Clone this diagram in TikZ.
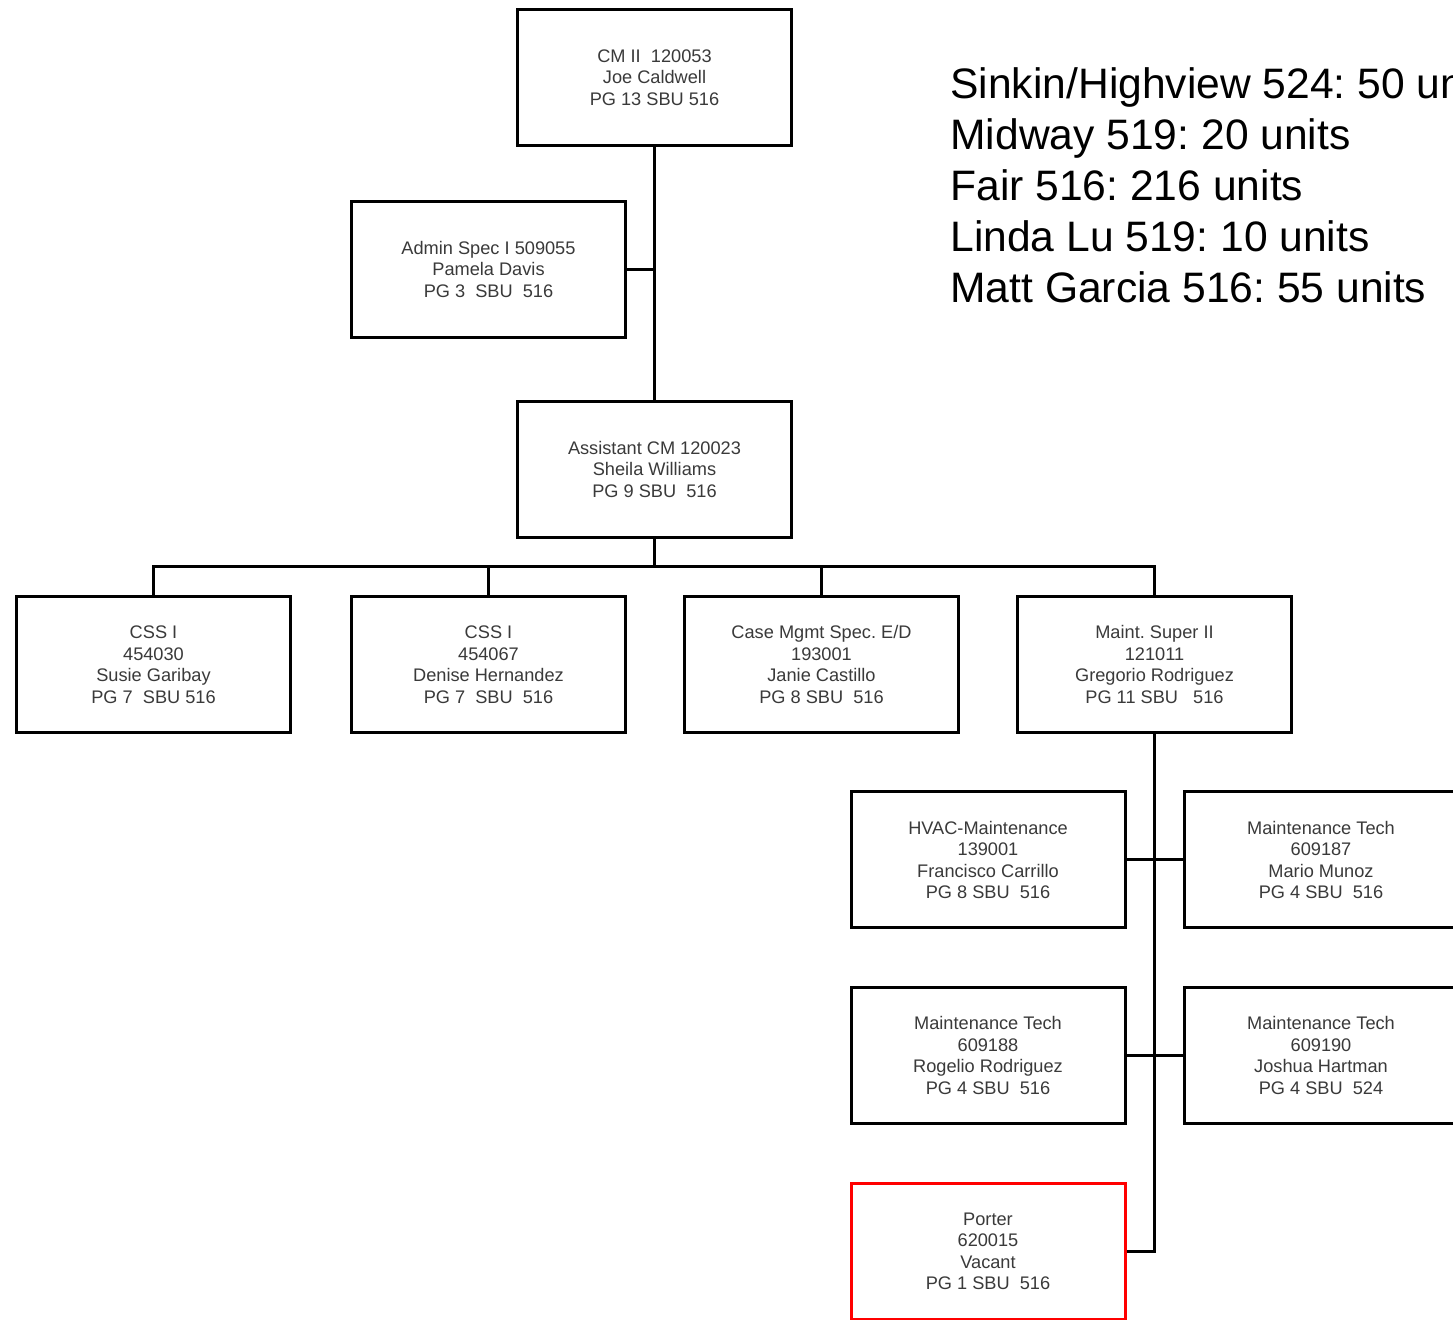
\documentclass[tikz,border=0pt]{standalone}
\usepackage{fontspec}
\setmainfont{Liberation Sans}
\definecolor{boxtext}{HTML}{3A3A3A}
\definecolor{vacantred}{HTML}{FF0000}
\tikzset{
  posbox/.style={draw=black, line width=1.5pt, fill=white, minimum width=137pt, minimum height=68pt,
    inner sep=0pt, align=center, text=boxtext, font=\fontsize{9.1pt}{10.75pt}\selectfont},
  vacbox/.style={posbox, draw=vacantred},
  conn/.style={draw=black, line width=1.5pt},
  unitline/.style={anchor=base west, inner sep=0pt, text=black, font=\fontsize{21.3pt}{25pt}\selectfont}
}
\begin{document}
\frenchspacing
\begin{tikzpicture}[x=0.5pt,y=-0.5pt]
\useasboundingbox (0,0) rectangle (1453,1320);
\clip (0,0) rectangle (1453,1320);
% nodes
\node[posbox] (cm) at (654.5,77.5) {CM II\ \ 120053\\Joe Caldwell\\PG 13 SBU 516};
\node[posbox] (admin) at (488.5,269.5) {Admin Spec I 509055\\Pamela Davis\\PG 3\ \ SBU\ \ 516};
\node[posbox] (asst) at (654.5,469.5) {Assistant CM 120023\\Sheila Williams\\PG 9 SBU\ \ 516};
\node[posbox] (css1) at (153.5,664.5) {CSS I\\454030\\Susie Garibay\\PG 7\ \ SBU 516};
\node[posbox] (css2) at (488.5,664.5) {CSS I\\454067\\Denise Hernandez\\PG 7\ \ SBU\ \ 516};
\node[posbox] (case) at (821.5,664.5) {Case Mgmt Spec. E/D\\193001\\Janie Castillo\\PG 8 SBU\ \ 516};
\node[posbox] (maint) at (1154.5,664.5) {Maint. Super II\\121011\\Gregorio Rodriguez\\PG 11 SBU\ \ \ 516};
\node[posbox] (hvac) at (988,860) {HVAC-Maintenance\\139001\\Francisco Carrillo\\PG 8 SBU\ \ 516};
\node[posbox] (mt1) at (1321,860) {Maintenance Tech\\609187\\Mario Munoz\\PG 4 SBU\ \ 516};
\node[posbox] (mt2) at (988,1055.5) {Maintenance Tech\\609188\\Rogelio Rodriguez\\PG 4 SBU\ \ 516};
\node[posbox] (mt3) at (1321,1055.5) {Maintenance Tech\\609190\\Joshua Hartman\\PG 4 SBU\ \ 524};
\node[vacbox] (porter) at (988,1251.5) {Porter\\620015\\Vacant\\PG 1 SBU\ \ 516};
% unit list
\node[unitline] (u1) at (950,99) {Sinkin/Highview 524: 50 units};
\node[unitline] (u2) at (950,150) {Midway 519: 20 units};
\node[unitline] (u3) at (950,201) {Fair 516: 216 units};
\node[unitline] (u4) at (950,252) {Linda Lu 519: 10 units};
\node[unitline] (u5) at (950,303) {Matt Garcia 516: 55 units};
% connectors
\coordinate (busy) at (0,567);
\draw[conn] (cm.south) -- (asst.north);
\draw[conn] (admin.east) -- (admin.east -| cm.south);
\draw[conn] (asst.south) -- (asst.south |- busy);
\draw[conn] (css1.north) |- (busy -| maint.north) -- (maint.north);
\draw[conn] (css2.north) -- (css2.north |- busy);
\draw[conn] (case.north) -- (case.north |- busy);
\draw[conn] (porter.east) -| (maint.south);
\draw[conn] (hvac.east) -- (mt1.west);
\draw[conn] (mt2.east) -- (mt3.west);
\end{tikzpicture}
\end{document}
